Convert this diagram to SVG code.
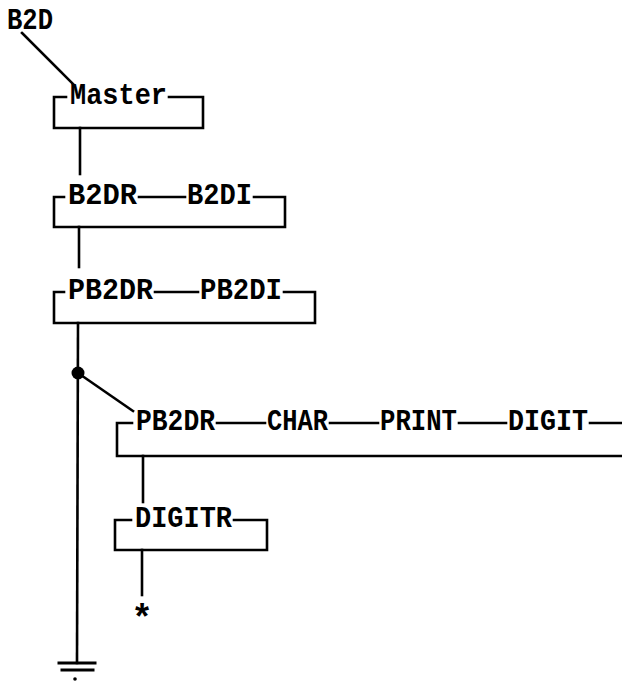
<svg xmlns="http://www.w3.org/2000/svg" width="622" height="681" viewBox="0 0 622 681">
<style>
.ln{fill:none;stroke:#000;stroke-width:2.6;stroke-linecap:square}
.t{font-family:"Liberation Mono","DejaVu Sans Mono",monospace;font-size:29px;font-weight:bold;fill:#000}
</style>
<rect width="622" height="681" fill="#fff"/>
<g id="b2d"><text class="t" x="7" y="29" textLength="46" lengthAdjust="spacingAndGlyphs">B2D</text></g>
<g id="master">
<path class="ln" d="M66,97 H54 V128 H203 V97 H169"/>
<text class="t" x="70" y="104" textLength="97" lengthAdjust="spacingAndGlyphs">Master</text>
</g>
<g id="b2dr-box">
<path class="ln" d="M64,197 H54 V227 H285 V197 H254 M139,197 H185"/>
<text class="t" x="68" y="204" textLength="69" lengthAdjust="spacingAndGlyphs">B2DR</text>
<text class="t" x="187" y="204" textLength="65" lengthAdjust="spacingAndGlyphs">B2DI</text>
</g>
<g id="pb2dr-box">
<path class="ln" d="M64,292 H54 V323 H315 V292 H284 M155,292 H198"/>
<text class="t" x="68" y="299" textLength="85" lengthAdjust="spacingAndGlyphs">PB2DR</text>
<text class="t" x="200" y="299" textLength="82" lengthAdjust="spacingAndGlyphs">PB2DI</text>
</g>
<g id="pb2dr-sub">
<path class="ln" d="M132,423 H117 V456 H624 M217,423 H265 M330,423 H378 M459,423 H506 M590,423 H624"/>
<text class="t" x="136" y="430" textLength="79" lengthAdjust="spacingAndGlyphs">PB2DR</text>
<text class="t" x="267" y="430" textLength="61" lengthAdjust="spacingAndGlyphs">CHAR</text>
<text class="t" x="380" y="430" textLength="77" lengthAdjust="spacingAndGlyphs">PRINT</text>
<text class="t" x="508" y="430" textLength="80" lengthAdjust="spacingAndGlyphs">DIGIT</text>
</g>
<g id="digitr">
<path class="ln" d="M131,520 H115 V550 H267 V520 H234"/>
<text class="t" x="135" y="527" textLength="97" lengthAdjust="spacingAndGlyphs">DIGITR</text>
</g>
<g id="star"><text class="t" x="142" y="630" text-anchor="middle" style="font-size:36px">*</text></g>
<g id="connectors">
<path class="ln" d="M22,33 L73,84"/>
<path class="ln" d="M80,128 V174"/>
<path class="ln" d="M79,227 V267"/>
<path class="ln" d="M78,323 L77,663"/>
<circle cx="78" cy="373" r="6.5" fill="#000"/>
<path class="ln" d="M78,373 L133,411"/>
<path class="ln" d="M143,456 V502"/>
<path class="ln" d="M142,550 V595"/>
<path class="ln" d="M59,663 H95 M62,670 H93" style="stroke-width:3"/>
<circle cx="75" cy="679" r="1.8" fill="#000"/>
</g>
</svg>
